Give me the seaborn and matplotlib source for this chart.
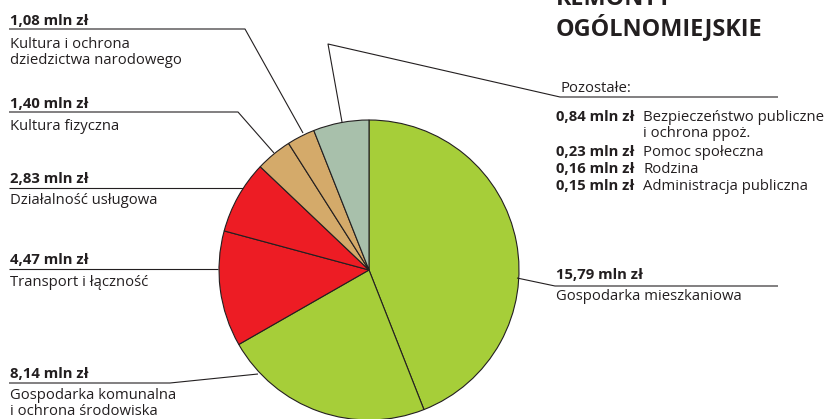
import matplotlib
matplotlib.use("Agg")
import matplotlib.pyplot as plt
import seaborn as sns

# Remonty ogólnomiejskie: spending by section (mln zł)
categories = [
    "Gospodarka mieszkaniowa",
    "Gospodarka komunalna\ni ochrona środowiska",
    "Transport i łączność",
    "Działalność usługowa",
    "Kultura fizyczna",
    "Kultura i ochrona\ndziedzictwa narodowego",
    "Pozostałe",
]
values = [15.79, 8.14, 4.47, 2.83, 1.40, 1.08, 2.15]
value_labels = ["15,79 mln zł", "8,14 mln zł", "4,47 mln zł", "2,83 mln zł",
                "1,40 mln zł", "1,08 mln zł", None]

# breakdown of the "Pozostałe" group
other_labels = ["0,84 mln zł", "0,23 mln zł", "0,16 mln zł", "0,15 mln zł"]
other_names = ["Bezpieczeństwo publiczne\ni ochrona ppoż.", "Pomoc społeczna",
               "Rodzina", "Administracja publiczna"]

colors = ["#a6ce39", "#a6ce39", "#ed1c24", "#ed1c24", "#d4aa6a", "#d4aa6a", "#a8c0ab"]
ink = "#231f20"

sns.set_theme(style="white")
plt.rcParams["font.family"] = ["Open Sans", "DejaVu Sans"]

W, H = 830, 419
fig = plt.figure(figsize=(W / 100, H / 100), dpi=100)
ax = fig.add_axes([0, 0, 1, 1])

# pie in pixel-like coordinates (y grows downward)
ax.pie(values, colors=colors, startangle=-90, counterclock=True,
       center=(369, 270), radius=150, frame=True,
       wedgeprops=dict(edgecolor=ink, linewidth=0.8))
ax.set_xlim(0, W)
ax.set_ylim(H, 0)
ax.set_aspect("equal")
ax.axis("off")

fs = 10.7
lw = 0.8
line_gap = 16


def leader(points):
    xs, ys = zip(*points)
    ax.plot(xs, ys, color=ink, lw=lw, solid_capstyle="butt", zorder=1)


def label(x, y_val, y_name, val, name):
    ax.text(x, y_val, val, fontsize=fs, fontweight="bold", color=ink, va="baseline")
    for i, part in enumerate(name.split("\n")):
        ax.text(x, y_name + i * line_gap, part, fontsize=fs, color=ink, va="baseline")


# left-hand labels
label(10, 25, 48, value_labels[5], categories[5])
leader([(9, 29), (245, 29), (303, 133)])

label(10, 108, 130, value_labels[4], categories[4])
leader([(9, 112), (238, 112), (274, 153)])

label(10, 183, 204, value_labels[3], categories[3])
leader([(9, 188), (243, 188)])

label(10, 264, 286, value_labels[2], categories[2])
leader([(9, 269), (218, 269)])

label(10, 378, 399, value_labels[1], categories[1])
leader([(9, 383), (170, 383), (258, 374)])

# right-hand label
label(556, 279, 300, value_labels[0], categories[0])
leader([(517, 278), (555, 286), (778, 286)])

# "Pozostałe" breakdown
leader([(342, 122), (328, 44), (560, 97), (778, 97)])
ax.text(560, 92, "Pozostałe:", fontsize=fs, color=ink, va="baseline")
rows_y = [121, 156, 173, 190]
for yb, v, n in zip(rows_y, other_labels, other_names):
    ax.text(556, yb, v, fontsize=fs, fontweight="bold", color=ink, va="baseline")
    for i, part in enumerate(n.split("\n")):
        ax.text(643, yb + i * line_gap, part, fontsize=fs, color=ink, va="baseline")

# title
ax.text(556, 5, "REMONTY", fontsize=16.8, fontweight="bold", color=ink, va="baseline")
ax.text(556, 35, "OGÓLNOMIEJSKIE", fontsize=16.8, fontweight="bold", color=ink, va="baseline")

fig.savefig("out.png", dpi=100, facecolor="white")
